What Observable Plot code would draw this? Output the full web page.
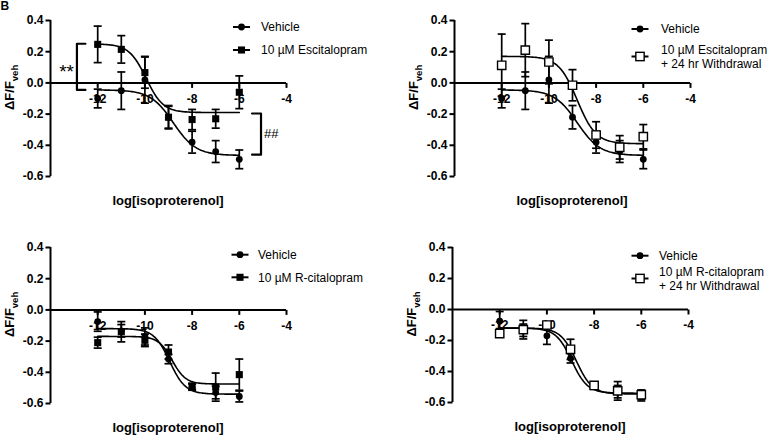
<!DOCTYPE html>
<html><head><meta charset="utf-8">
<script src="https://cdn.jsdelivr.net/npm/d3@7"></script>
<script src="https://cdn.jsdelivr.net/npm/@observablehq/plot@0.6"></script>
<style>
body{margin:0;background:#fff;}
#root{position:relative;width:775px;height:436px;overflow:hidden;background:#fff;font-family:"Liberation Sans",Arial,sans-serif;}
.panel{position:absolute;}
.panel svg{background:transparent !important;overflow:visible;}
</style></head><body><div id="root"></div>
<script>
// ---- data ----
const logConc = [-12, -11, -10, -9, -8, -7, -6];
const vehicleA = [-0.10, -0.05, 0.02, -0.22, -0.38, -0.44, -0.49];
const vehicleAErr = [0.06, 0.12, 0.15, 0.075, 0.07, 0.07, 0.06];
const escit = [0.247, 0.215, 0.066, -0.22, -0.235, -0.23, -0.06];
const escitErr = [0.117, 0.088, 0.10, 0.07, 0.065, 0.06, 0.105];
const escitWd = [0.113, 0.21, 0.134, -0.015, -0.334, -0.413, -0.345];
const escitWdErr = [0.2, 0.17, 0.14, 0.1, 0.085, 0.075, 0.078];
const vehicleB = [-0.075, -0.134, -0.17, -0.315, -0.495, -0.53, -0.555];
const vehicleBErr = [0.062, 0.04, 0.055, 0.03, 0.02, 0.04, 0.035];
const rcit = [-0.21, -0.14, -0.195, -0.27, -0.49, -0.495, -0.415];
const rcitErr = [0.035, 0.065, 0.04, 0.045, 0.02, 0.09, 0.1];
const rcitWd = [-0.155, -0.13, -0.10, -0.257, -0.49, -0.525, -0.55];
const rcitWdErr = [0.02, 0.06, 0.02, 0.065, 0.02, 0.06, 0.03];
// sigmoidal fit parameters [top, bottom, logEC50, hill slope]
const fitVehicleA = [-0.045, -0.465, -8.8, 0.9];
const fitEscit = [0.25, -0.19, -9.95, 1.2];
const fitEscitWd = [0.17, -0.39, -8.8, 1.1];
const fitVehicleB = [-0.12, -0.54, -8.95, 1.3];
const fitRcit = [-0.17, -0.475, -8.85, 1.5];
const fitRcitWd = [-0.12, -0.545, -8.75, 1.3];
const fitRange = [-12, -6];
const xTicks = [-12, -10, -8, -6, -4];
const yTicks = [-0.6, -0.4, -0.2, 0, 0.2, 0.4];
const xDomain = [-14, -4];
const yDomain = [-0.6, 0.4];
const xLabel = "log[isoproterenol]";
const seriesNames = {
  veh: ["Vehicle"],
  escit: ["10 µM Escitalopram"],
  escitWd: ["10 µM Escitalopram", "+ 24 hr Withdrawal"],
  rcit: ["10 µM R-citalopram"],
  rcitWd: ["10 µM R-citalopram", "+ 24 hr Withdrawal"]
};
// significance brackets: [x, xEnd, yTop, yBottom, label]
const bracketStars = [-12.88, -12.52, 0.251, -0.045, "**"];
const bracketHash = [-5.08, -5.46, -0.196, -0.46, "##"];

// ---- helpers ----
const tickDown = {draw(c, s){const l = Math.sqrt(s/Math.PI); c.moveTo(0,0); c.lineTo(0,l);}};
const tickLeft = {draw(c, s){const l = Math.sqrt(s/Math.PI); c.moveTo(0,0); c.lineTo(-l,0);}};
const capSym = {draw(c, s){const l = Math.sqrt(s/Math.PI); c.moveTo(-l,0); c.lineTo(l,0);}};

function table(values, err){ return logConc.map((x,i)=>({x, y: values[i], e: err[i]})); }
function fitCurve(p){
  const [top, bottom, ec, h] = p, pts = [];
  for (let k = 0; k <= 120; k++){
    const x = fitRange[0] + (fitRange[1]-fitRange[0])*k/120;
    pts.push({x, y: bottom + (top-bottom)/(1 + Math.pow(10, (x-ec)*h))});
  }
  return pts;
}
const markerStyle = {
  circle: {symbol: "circle", r: 3.4, fill: "black", stroke: "none"},
  fsquare: {symbol: "square", r: 4.0, fill: "black", stroke: "none"},
  osquare: {symbol: "square", r: 4.7, fill: "white", stroke: "black", strokeWidth: 1.4}
};

const panels = [
  {left: 0, top: 0, width: 385, marginLeft: 50, marginTop: 20, marginBottom: 42,
   series: [
     {key: "veh", data: table(vehicleA, vehicleAErr), fit: fitVehicleA, marker: "circle"},
     {key: "escit", data: table(escit, escitErr), fit: fitEscit, marker: "fsquare"}],
   legend: {mx: 241.5, tx: 261, rows: [{y: 27, lines: [27]}, {y: 50, lines: [50]}]},
   brackets: [bracketStars, bracketHash], letter: true},
  {left: 385, top: 0, width: 390, marginLeft: 69, marginTop: 20, marginBottom: 42,
   series: [
     {key: "veh", data: table(vehicleA, vehicleAErr), fit: fitVehicleA, marker: "circle"},
     {key: "escitWd", data: table(escitWd, escitWdErr), fit: fitEscitWd, marker: "osquare"}],
   legend: {mx: 255, tx: 276, rows: [{y: 29, lines: [29]}, {y: 56.5, lines: [49.5, 63.5]}]},
   brackets: []},
  {left: 0, top: 218, width: 385, marginLeft: 50, marginTop: 29, marginBottom: 33,
   series: [
     {key: "veh", data: table(vehicleB, vehicleBErr), fit: fitVehicleB, marker: "circle"},
     {key: "rcit", data: table(rcit, rcitErr), fit: fitRcit, marker: "fsquare"}],
   legend: {mx: 240, tx: 258, rows: [{y: 36.7, lines: [36.7]}, {y: 59.3, lines: [59.3]}]},
   brackets: []},
  {left: 385, top: 218, width: 390, marginLeft: 67, marginTop: 29, marginBottom: 34,
   series: [
     {key: "veh", data: table(vehicleB, vehicleBErr), fit: fitVehicleB, marker: "circle"},
     {key: "rcitWd", data: table(rcitWd, rcitWdErr), fit: fitRcitWd, marker: "osquare"}],
   legend: {mx: 255, tx: 274, rows: [{y: 37.7, lines: [37.7]}, {y: 60.5, lines: [53.5, 67.5]}]},
   brackets: []}
];

const root = document.getElementById("root");
for (const p of panels){
  const height = 218;
  const plotRight = p.marginLeft + 236;
  const marks = [
    Plot.ruleX([xDomain[0]], {y1: yDomain[0], y2: yDomain[1], strokeWidth: 2}),
    Plot.ruleY([0], {x1: xDomain[0], x2: xDomain[1], strokeWidth: 2}),
    Plot.dot(yTicks, {x: xDomain[0], y: d=>d, symbol: tickLeft, r: 5, fill: "none", stroke: "black", strokeWidth: 2}),
    Plot.text(yTicks, {x: xDomain[0], y: d=>d, dx: -7, textAnchor: "end", text: d=>d.toFixed(1), fontWeight: "bold", fontSize: 12}),
    Plot.dot(xTicks, {x: d=>d, y: 0, symbol: tickDown, r: 5, fill: "none", stroke: "black", strokeWidth: 2}),
    Plot.text(xTicks, {x: d=>d, y: 0, dy: 16, text: d=>String(d), fontWeight: "bold", fontSize: 12})
  ];
  for (const b of p.brackets){
    const [bx, bxe, yt, yb, lab] = b;
    marks.push(Plot.line([{x: bxe, y: yt}, {x: bx, y: yt}, {x: bx, y: yb}, {x: bxe, y: yb}], {x: "x", y: "y", strokeWidth: 2.2, curve: "linear"}));
    const right = bxe < bx;
    marks.push(Plot.text([lab], {x: bx, y: (yt+yb)/2, dx: right ? 3 : -3, textAnchor: right ? "start" : "end", text: d=>d,
      fontSize: right ? 13 : 19, fontWeight: "normal", dy: right ? 0 : 5}));
  }
  for (const s of p.series){
    marks.push(Plot.line(fitCurve(s.fit), {x: "x", y: "y", strokeWidth: 1.6}));
  }
  for (const s of p.series){
    marks.push(Plot.ruleX(s.data, {x: "x", y1: d=>d.y-d.e, y2: d=>d.y+d.e, strokeWidth: 1.7}));
    marks.push(Plot.dot(s.data, {x: "x", y: d=>d.y+d.e, symbol: capSym, r: 4, fill: "none", stroke: "black", strokeWidth: 1.7}));
    marks.push(Plot.dot(s.data, {x: "x", y: d=>d.y-d.e, symbol: capSym, r: 4, fill: "none", stroke: "black", strokeWidth: 1.7}));
  }
  for (const s of p.series){
    marks.push(Plot.dot(s.data, {x: "x", y: "y", ...markerStyle[s.marker]}));
  }
  const svg = Plot.plot({
    width: p.width, height,
    marginLeft: p.marginLeft, marginRight: p.width - plotRight,
    marginTop: p.marginTop, marginBottom: p.marginBottom,
    x: {domain: xDomain, axis: null},
    y: {domain: yDomain, axis: null},
    style: {fontFamily: "'Liberation Sans', Arial, sans-serif", background: "transparent", color: "black"},
    marks
  });
  const g = d3.select(svg);
  const plotBottom = height - p.marginBottom;
  const zeroY = p.marginTop + (yDomain[1]/(yDomain[1]-yDomain[0]))*(plotBottom - p.marginTop);
  // x axis title
  g.append("text").attr("x", (p.marginLeft + plotRight)/2).attr("y", plotBottom + 24).attr("dy", "0.35em")
    .attr("text-anchor", "middle").attr("font-weight", "bold").attr("font-size", 13).attr("fill", "black").text(xLabel);
  // y axis title with subscript
  const yt = g.append("text").attr("transform", `translate(${p.marginLeft - 36},${zeroY + 5}) rotate(-90)`)
    .attr("text-anchor", "middle").attr("font-weight", "bold").attr("font-size", 13).attr("fill", "black");
  yt.append("tspan").text("ΔF/F");
  yt.append("tspan").attr("font-size", 9.5).attr("dy", 4).text("veh");
  // legend
  p.series.forEach((s, i) => {
    const row = p.legend.rows[i];
    const lg = g.append("g").attr("text-anchor", "start");
    lg.append("line").attr("x1", p.legend.mx - 8.5).attr("x2", p.legend.mx + 8.5).attr("y1", row.y).attr("y2", row.y)
      .attr("stroke", "black").attr("stroke-width", 2);
    const m = markerStyle[s.marker];
    if (s.marker === "circle") lg.append("circle").attr("cx", p.legend.mx).attr("cy", row.y).attr("r", 3.4).attr("fill", "black");
    else {
      const side = m.r * Math.sqrt(Math.PI);
      lg.append("rect").attr("x", p.legend.mx - side/2).attr("y", row.y - side/2).attr("width", side).attr("height", side)
        .attr("fill", m.fill).attr("stroke", m.stroke).attr("stroke-width", m.strokeWidth || 0);
    }
    seriesNames[s.key].forEach((t, j) => {
      lg.append("text").attr("x", p.legend.tx).attr("y", row.lines[j]).attr("dy", "0.35em")
        .attr("text-anchor", "start").attr("font-size", 12).attr("fill", "black").text(t);
    });
  });
  if (p.letter){
    g.append("text").attr("x", 0.5).attr("y", 10).attr("text-anchor", "start").attr("font-weight", "bold")
      .attr("font-size", 12).attr("fill", "black").text("B");
  }
  const div = document.createElement("div");
  div.className = "panel";
  div.style.left = p.left + "px";
  div.style.top = p.top + "px";
  div.appendChild(svg);
  root.appendChild(div);
}
</script>
</body></html>
